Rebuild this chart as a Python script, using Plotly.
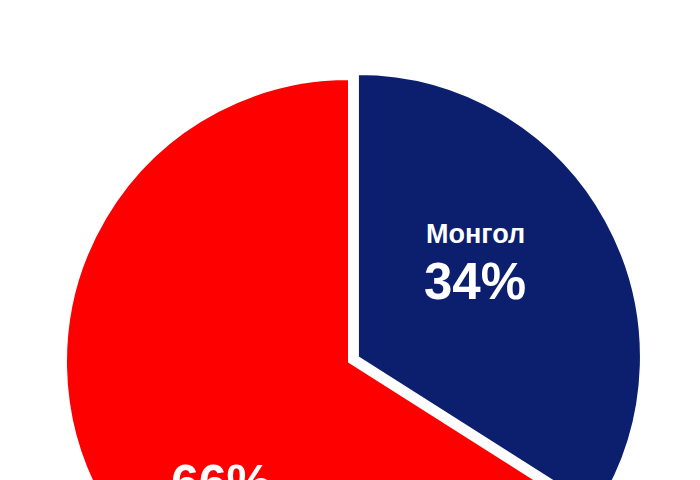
import plotly.graph_objects as go

labels = ["Монгол", "Бусад"]
values = [34, 66]
colors = ["#0b1f6e", "#ff0000"]
pulls = [0.036, 0]
shown_names = ["Монгол", ""]

W, H = 700, 800

# pie geometry (pixels from top-left of the page)
cx, cy, r = 349, 362, 283
half = r * (1 + max(pulls))

fig = go.Figure(go.Pie(
    labels=labels,
    values=values,
    sort=False,
    direction="clockwise",
    rotation=0,
    pull=pulls,
    marker=dict(colors=colors, line=dict(color="white", width=2)),
    textinfo="none",
    hoverinfo="label+percent",
    showlegend=False,
    domain=dict(x=[(cx - half) / W, (cx + half) / W],
                y=[(H - cy - half) / H, (H - cy + half) / H]),
))

font_family = "Liberation Sans, Arial, sans-serif"
pct = [f"{round(v / sum(values) * 100)}%" for v in values]


def label(x, y, text, size):
    fig.add_annotation(x=x / W, y=1 - y / H, xref="paper", yref="paper",
                       xanchor="center", yanchor="middle",
                       text=f"<b>{text}</b>", showarrow=False,
                       font=dict(family=font_family, size=size, color="white"))


label(475, 234, shown_names[0], 27)
label(475, 281, pct[0], 51)
label(221, 483, pct[1], 50)

fig.update_layout(width=W, height=H, margin=dict(l=0, r=0, t=0, b=0),
                  paper_bgcolor="white", plot_bgcolor="white")

fig.write_html("out.html", config={"displayModeBar": False},
               post_script="document.body.style.margin='0';"
                           "document.body.style.overflow='hidden';"
                           "document.documentElement.style.overflow='hidden';")
